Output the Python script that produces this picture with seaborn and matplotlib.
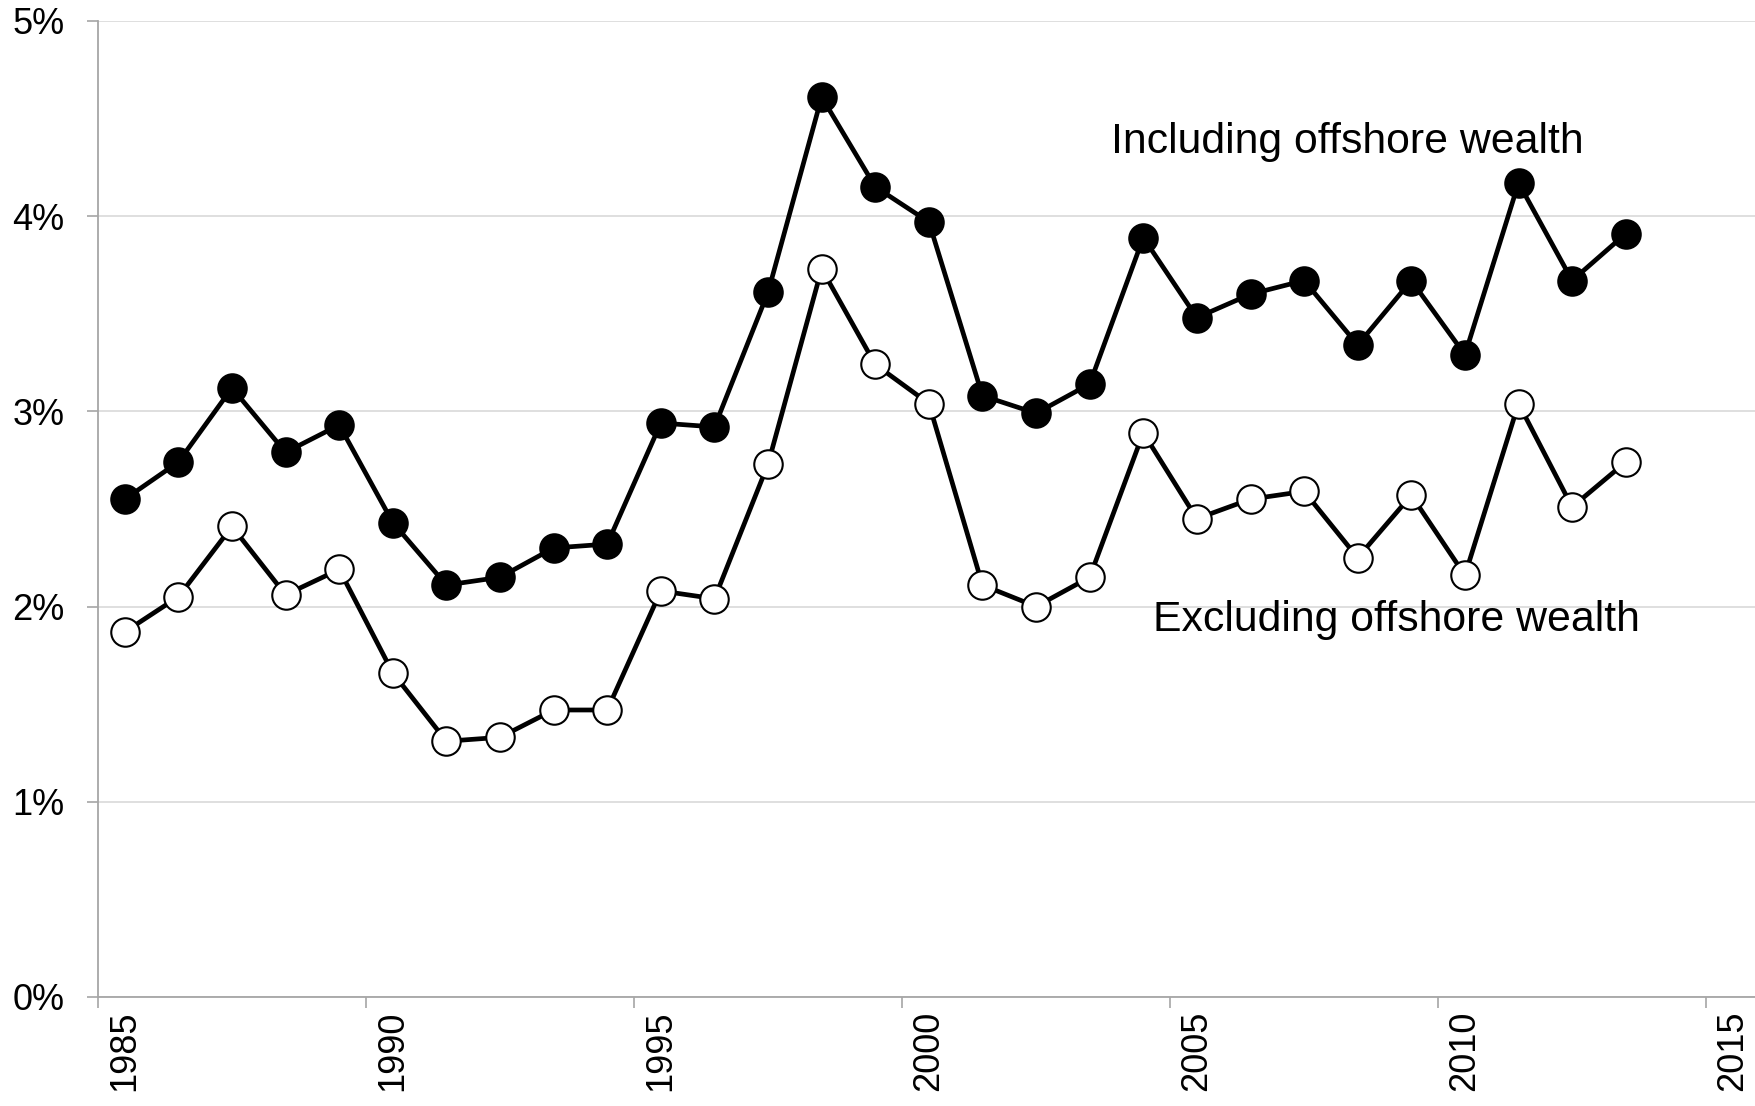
import matplotlib
matplotlib.use("Agg")
import matplotlib.pyplot as plt
import seaborn as sns
import pandas as pd
from matplotlib.ticker import FuncFormatter

# values (%)
years = list(range(1985, 2014))
including_offshore = [2.55, 2.74, 3.12, 2.79, 2.93, 2.43, 2.11, 2.15, 2.30, 2.32,
                      2.94, 2.92, 3.61, 4.61, 4.15, 3.97, 3.08, 2.99, 3.14, 3.89,
                      3.48, 3.60, 3.67, 3.34, 3.67, 3.29, 4.17, 3.67, 3.91]
excluding_offshore = [1.87, 2.05, 2.41, 2.06, 2.19, 1.66, 1.31, 1.33, 1.47, 1.47,
                      2.08, 2.04, 2.73, 3.73, 3.24, 3.04, 2.11, 2.00, 2.15, 2.89,
                      2.45, 2.55, 2.59, 2.25, 2.57, 2.16, 3.04, 2.51, 2.74]
label_years = [1985, 1990, 1995, 2000, 2005, 2010, 2015]

df = pd.DataFrame({"year": years,
                   "incl": including_offshore,
                   "excl": excluding_offshore})

sns.set_style("white")
plt.rcParams["font.family"] = ["Liberation Sans", "DejaVu Sans"]
plt.rcParams["text.color"] = "black"
plt.rcParams["xtick.labelcolor"] = "black"
plt.rcParams["ytick.labelcolor"] = "black"

fig = plt.figure(figsize=(17.56, 11.06), dpi=100)
ax = fig.add_axes([0.0558, 0.0986, 0.9442, 0.8825])

sns.lineplot(data=df, x="year", y="incl", ax=ax, color="black", lw=3.4,
             marker="o", markersize=20.5, markerfacecolor="black",
             markeredgecolor="black", markeredgewidth=1.5)
sns.lineplot(data=df, x="year", y="excl", ax=ax, color="black", lw=3.4,
             marker="o", markersize=20.5, markerfacecolor="white",
             markeredgecolor="black", markeredgewidth=1.5)

ax.set_ylim(0, 5)
ax.set_xlim(1984.5, 2015.43)
ax.set_yticks([0, 1, 2, 3, 4, 5])
ax.yaxis.set_major_formatter(FuncFormatter(lambda v, p: f"{v:.0f}%"))

# category axis: ticks at boundaries, labels at category centres
ax.set_xticks([y - 0.5 for y in label_years])
ax.set_xticklabels([])
ax.set_xticks(label_years, minor=True)
ax.set_xticklabels([str(y) for y in label_years], minor=True, rotation=90,
                   fontsize=26, color="black")
ax.tick_params(axis="x", which="minor", length=0, pad=10)
ax.tick_params(axis="x", which="major", length=8, width=1.2, color="#a6a6a6",
               direction="out", bottom=True)
ax.tick_params(axis="y", length=8, width=1.2, color="#a6a6a6", direction="out",
               left=True, labelsize=26, pad=16, labelcolor="black")

ax.grid(axis="y", color="#d9d9d9", lw=1.2)
ax.set_axisbelow(True)
for s in ["top", "right"]:
    ax.spines[s].set_visible(False)
for s in ["left", "bottom"]:
    ax.spines[s].set_color("#a6a6a6")
    ax.spines[s].set_linewidth(1.3)

ax.set_xlabel("")
ax.set_ylabel("")

ax.text(2007.8, 4.38, "Including offshore wealth", fontsize=30.8,
        ha="center", va="center", color="black")
ax.text(2008.73, 1.93, "Excluding offshore wealth", fontsize=30.8,
        ha="center", va="center", color="black")

fig.savefig("out.png", dpi=100)
